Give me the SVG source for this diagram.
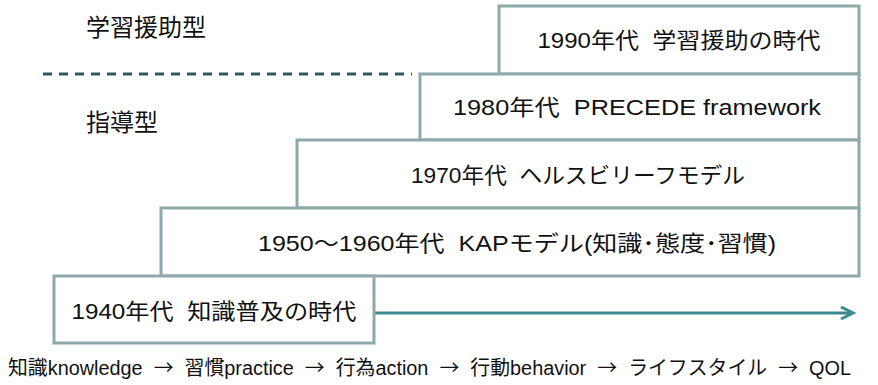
<svg xmlns="http://www.w3.org/2000/svg" width="878" height="385" viewBox="0 0 878 385">
<style>
.box{fill:#ffffff;stroke:#8ea9ab;stroke-width:3}
.t{font-family:"Liberation Sans","Noto Sans CJK JP",sans-serif;font-size:22px;fill:#111;text-anchor:middle;white-space:pre}
.lbl{font-family:"Liberation Sans","Noto Sans CJK JP",sans-serif;font-size:24px;fill:#111}
.foot{font-family:"Liberation Sans","Noto Sans CJK JP",sans-serif;font-size:20px;fill:#111;white-space:pre}
.ar{font-family:"Noto Sans CJK JP",sans-serif}
</style>
<defs>
<marker id="arr" markerWidth="16" markerHeight="16" refX="13" refY="7" orient="auto" markerUnits="userSpaceOnUse">
<path d="M1,1 L13,7 L1,13" fill="none" stroke="#3d8a92" stroke-width="3"/>
</marker>
</defs>
<g id="label-learning"><text class="lbl" x="86" y="36">学習援助型</text></g>
<g id="label-guidance"><text class="lbl" x="86" y="131">指導型</text></g>
<g id="connectors">
<line x1="43" y1="74" x2="412" y2="74" stroke="#2f5b5e" stroke-width="3" stroke-dasharray="9,7"/>
<line x1="375" y1="313" x2="853" y2="313" stroke="#3d8a92" stroke-width="3" marker-end="url(#arr)"/>
</g>
<g id="n1990"><rect class="box" x="499" y="6" width="360" height="68"/><text class="t" xml:space="preserve" x="679" y="48" textLength="283" lengthAdjust="spacingAndGlyphs">1990年代  学習援助の時代</text></g>
<g id="n1980"><rect class="box" x="420" y="74" width="439" height="66"/><text class="t" xml:space="preserve" x="637" y="115" textLength="368" lengthAdjust="spacingAndGlyphs">1980年代  PRECEDE framework</text></g>
<g id="n1970"><rect class="box" x="297" y="140" width="562" height="68"/><text class="t" xml:space="preserve" x="578" y="183" textLength="334" lengthAdjust="spacingAndGlyphs">1970年代  ヘルスビリーフモデル</text></g>
<g id="n1950"><rect class="box" x="161" y="208" width="698" height="68"/><text class="t" xml:space="preserve" x="517" y="251" textLength="518" lengthAdjust="spacingAndGlyphs">1950～1960年代  KAPモデル(知識･態度･習慣)</text></g>
<g id="n1940"><rect class="box" x="54" y="276" width="320" height="67"/><text class="t" xml:space="preserve" x="214" y="319" textLength="285" lengthAdjust="spacingAndGlyphs">1940年代  知識普及の時代</text></g>
<g id="footer"><text class="foot" xml:space="preserve" x="8" y="375" textLength="843" lengthAdjust="spacingAndGlyphs">知識knowledge  <tspan class="ar">→</tspan>  習慣practice  <tspan class="ar">→</tspan>  行為action  <tspan class="ar">→</tspan>  行動behavior  <tspan class="ar">→</tspan>  ライフスタイル  <tspan class="ar">→</tspan>  QOL</text></g>
</svg>
